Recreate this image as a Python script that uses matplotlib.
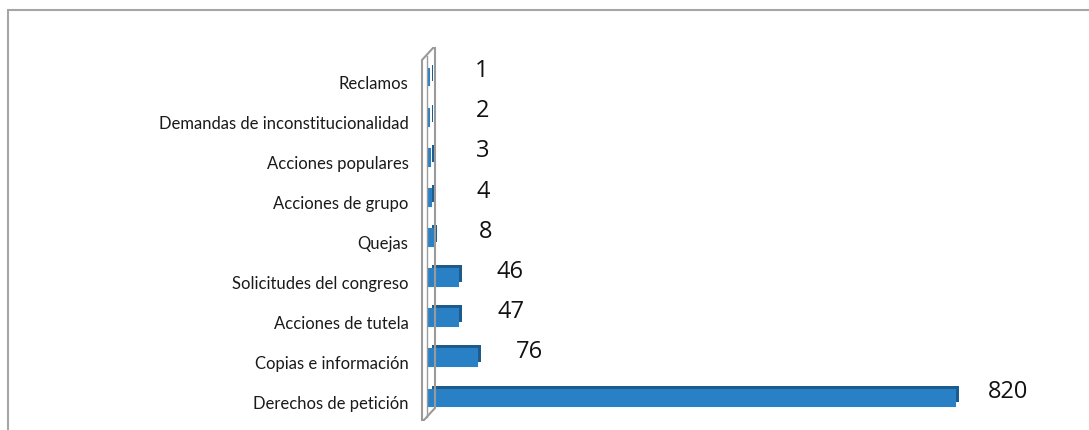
import matplotlib.pyplot as plt
import matplotlib.transforms as mtransforms
from matplotlib.patches import Polygon, Rectangle

# data (bottom to top)
categories = ["Derechos de petición", "Copias e información", "Acciones de tutela",
              "Solicitudes del congreso", "Quejas", "Acciones de grupo",
              "Acciones populares", "Demandas de inconstitucionalidad", "Reclamos"]
values = [820, 76, 47, 46, 8, 4, 3, 2, 1]

W, H = 1089, 431
fig = plt.figure(figsize=(W / 100, H / 100), dpi=100)
fig.patch.set_facecolor("white")

# outer frame (top and left edges visible)
fig.add_artist(Rectangle((8 / W, -0.1), 1.2, (H - 11) / H + 0.1, transform=fig.transFigure,
                         fill=False, edgecolor="#a6a6a6", linewidth=1.5))

x0, x1 = 428, 1089
y_bot, y_top = 423, 62
ax = fig.add_axes([x0 / W, 1 - y_bot / H, (x1 - x0) / W, (y_bot - y_top) / H])
scale = 0.643  # px per unit
ax.set_xlim(0, (x1 - x0) / scale)
ax.set_ylim(-0.5, len(categories) - 0.5)

ypos = list(range(len(categories)))
# fake 3d: darker copy shifted up/right behind the front face
depth = mtransforms.ScaledTranslation(4 / 100, 4 / 100, fig.dpi_scale_trans)
ax.barh([y + 0.1 for y in ypos], values, height=0.42, color="#1d5b8c",
        transform=ax.transData + depth, zorder=2, linewidth=0)
ax.barh([y + 0.1 for y in ypos], values, height=0.42, color="#2a80c5", zorder=3,
        edgecolor="#2a80c5", linewidth=1.5)

for y, v in zip(ypos, values):
    ax.annotate(str(v), (v, y + 0.27), xytext=(38, 0), textcoords="offset points",
                ha="center", va="center", fontsize=17, family="Open Sans", color="#111111")

ax.set_yticks(ypos)
ax.set_yticklabels(categories, fontsize=12, family="Lato", color="#1a1a1a")
ax.tick_params(axis="y", length=0, pad=14)
ax.set_xticks([])
for s in ax.spines.values():
    s.set_visible(False)

# 3D wall
px = lambda x, y: (x / W, 1 - y / H)
wall = Polygon([px(422, 61), px(433, 49), px(435, 49), px(435, 409), px(424, 421), px(422, 421)],
               closed=True, fill=False, edgecolor="#9a9a9a", linewidth=1.5,
               transform=fig.transFigure, zorder=1)
fig.add_artist(wall)
fig.add_artist(plt.Line2D([427 / W, 427 / W], [1 - 57 / H, 1 - 418 / H],
                          transform=fig.transFigure, color="#9a9a9a", linewidth=1))

fig.savefig("out.png", dpi=100)
